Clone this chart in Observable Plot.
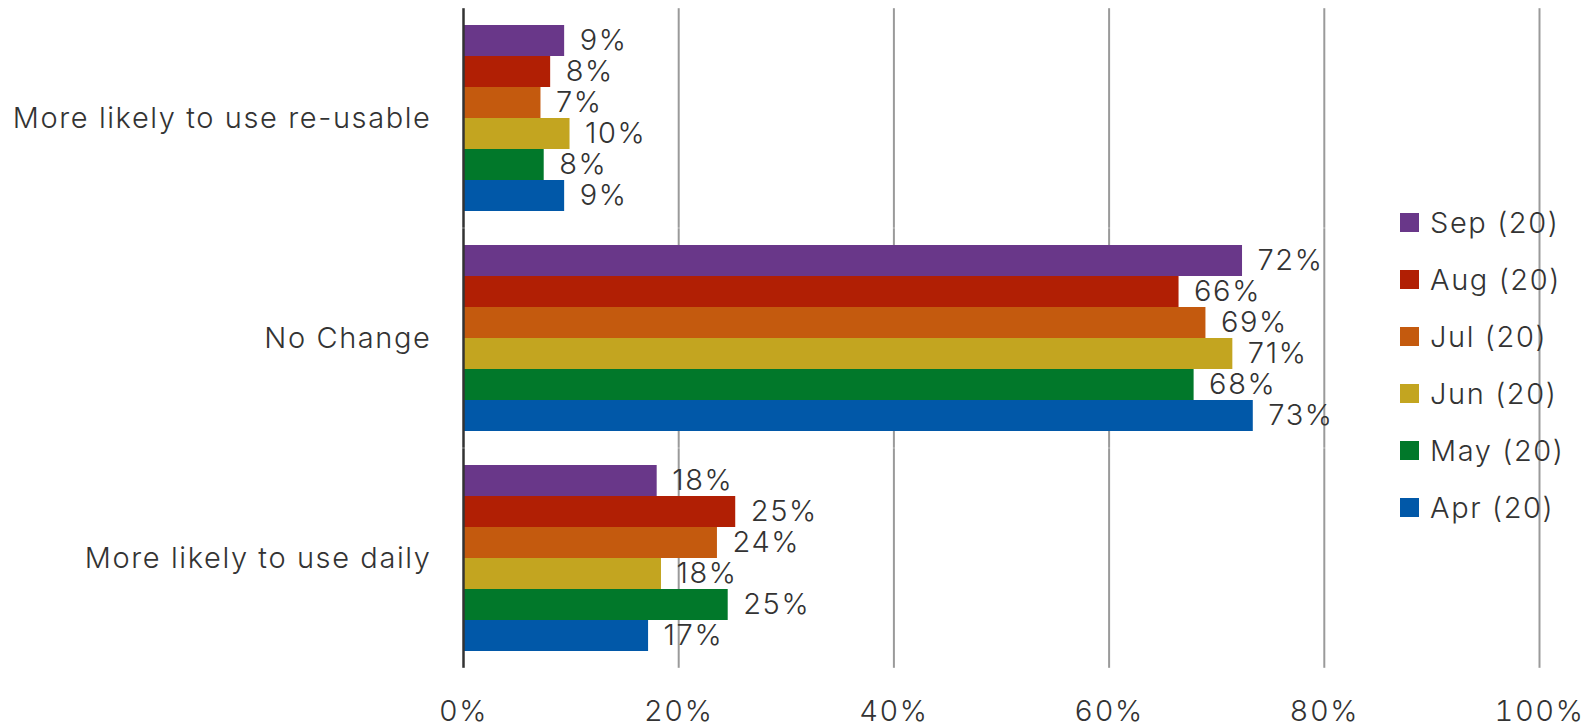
<!DOCTYPE html>
<html><head><meta charset="utf-8">
<script src="https://cdn.jsdelivr.net/npm/d3@7"></script>
<script src="https://cdn.jsdelivr.net/npm/@observablehq/plot@0.6"></script>
<style>
body{margin:0;background:#fff;font-family:Inter,sans-serif;}
#wrap{position:relative;width:1593px;height:728px;overflow:hidden;}
#legend{position:absolute;left:1400px;top:0;}
.item{position:absolute;left:0;display:flex;align-items:center;white-space:nowrap;height:19px;}
.sw{width:19px;height:19px;margin-right:11px;flex:none;}
.lab{font-size:29px;color:#333;line-height:19px;font-weight:300;letter-spacing:1.6px;}
svg text{letter-spacing:1.6px;}
</style></head><body><div id="wrap"><div id="chart"></div><div id="legend"></div></div>
<script>
const categories = ["More likely to use re-usable", "No Change", "More likely to use daily"];
const series = ["Sep (20)", "Aug (20)", "Jul (20)", "Jun (20)", "May (20)", "Apr (20)"];
const seriesColors = ["#693789", "#B11F04", "#C45A0E", "#C3A520", "#01782A", "#0158A8"];
const reusable = [9.4, 8.1, 7.2, 9.9, 7.5, 9.4];
const noChange = [72.4, 66.5, 69.0, 71.5, 67.9, 73.4];
const daily = [18.0, 25.3, 23.6, 18.4, 24.6, 17.2];
const reusableLabels = ["9%", "8%", "7%", "10%", "8%", "9%"];
const noChangeLabels = ["72%", "66%", "69%", "71%", "68%", "73%"];
const dailyLabels = ["18%", "25%", "24%", "18%", "25%", "17%"];
const xTicks = [0, 20, 40, 60, 80, 100];
const xTickLabels = ["0%", "20%", "40%", "60%", "80%", "100%"];

const valueSets = [reusable, noChange, daily];
const labelSets = [reusableLabels, noChangeLabels, dailyLabels];
const rows = [];
categories.forEach((c, ci) => series.forEach((s, si) => rows.push({
  category: c, series: s, value: valueSets[ci][si], label: labelSets[ci][si]
})));

const ext = -15.8;
const chart = Plot.plot({
  width: 1593, height: 728,
  marginLeft: 463, marginRight: 54, marginTop: 8, marginBottom: 60,
  style: {fontFamily: "Inter, sans-serif", color: "#333", background: "#fff", fontWeight: 300},
  x: {domain: [0, 100], axis: null},
  fy: {domain: categories, paddingInner: 0.145, paddingOuter: 0.07, label: null},
  y: {domain: series, padding: 0, axis: null},
  color: {domain: series, range: seriesColors},
  marks: [
    Plot.ruleX(xTicks.slice(1), {stroke: "#9a9a9a", strokeWidth: 2, insetTop: ext, insetBottom: ext}),
    Plot.barX(rows, {fy: "category", y: "series", x: "value", fill: "series"}),
    Plot.ruleX([0], {stroke: "#333", strokeWidth: 2.5, insetTop: ext, insetBottom: ext}),
    Plot.text(rows, {fy: "category", y: "series", x: "value", text: "label", textAnchor: "start", dx: 15, fontSize: 29, fill: "#333"}),
    Plot.axisFy({anchor: "left", tickSize: 0, tickPadding: 32, fontSize: 29, label: null}),
    Plot.axisX(xTicks, {anchor: "bottom", tickSize: 0, tickPadding: 48, fontSize: 29, tickFormat: (d) => xTickLabels[xTicks.indexOf(d)], label: null})
  ]
});
document.getElementById("chart").appendChild(chart);

const legend = document.getElementById("legend");
series.forEach((s, i) => {
  const item = document.createElement("div");
  item.className = "item";
  item.style.top = (213 + i * 57) + "px";
  item.innerHTML = `<div class="sw" style="background:${seriesColors[i]}"></div><span class="lab">${s}</span>`;
  legend.appendChild(item);
});
</script></body></html>
